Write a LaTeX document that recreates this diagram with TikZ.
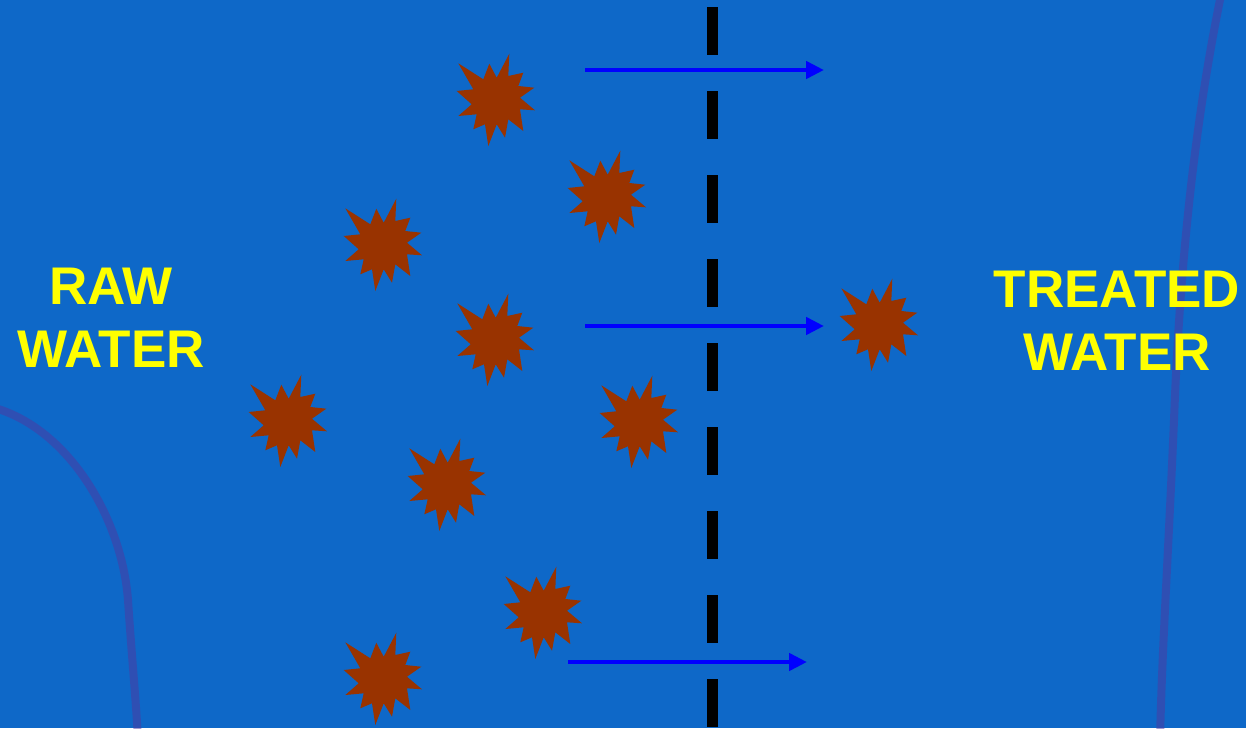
\documentclass[tikz,border=0pt]{standalone}
\usepackage{fontspec}
\setmainfont{Liberation Sans}
\usetikzlibrary{arrows.meta}
\definecolor{bg}{RGB}{14,104,200}
\definecolor{burstc}{RGB}{153,51,0}
\definecolor{arrowc}{RGB}{0,0,255}
\definecolor{curvec}{RGB}{80,55,160}
\definecolor{labelc}{RGB}{255,255,0}
\tikzset{
  label text/.style={text=labelc, font=\fontsize{53}{63}\selectfont\bfseries, align=center, inner sep=0pt},
  flow/.style={draw=arrowc, line width=4.5pt, -{Triangle[length=18pt,width=17pt]}},
  membrane/.style={draw=black, line width=11pt, dash pattern=on 48pt off 36pt},
  faint curve/.style={draw=curvec, line width=8pt, opacity=0.5, line cap=round},
  burst/.pic={
    \fill[burstc] (-37.7,-37.7) -- (-12.7,-21.7) -- (-6.7,-37.3) -- (0.7,-23.3) -- (13.3,-47.3) -- (12.3,-25)
      -- (27.3,-28.3) -- (22.3,-15) -- (38.3,-13.3) -- (24,-3.3) -- (39,9.3) -- (24,8.3)
      -- (27.3,30) -- (12.3,18.3) -- (9,36.7) -- (0.7,23.3) -- (-7.7,45) -- (-11,23.3)
      -- (-22.7,28.3) -- (-19.3,13.3) -- (-37.7,15) -- (-24.3,3.3) -- (-39.3,-10) -- (-22.7,-11.7) -- cycle;
  }
}
\begin{document}
\begin{tikzpicture}[x=1pt,y=-1pt]
\fill[bg] (0,0) rectangle (1246,728);
\useasboundingbox (0,0) rectangle (1246,728);
% faint curves
\draw[faint curve] (-5,408) .. controls (70,430) and (122,520) .. (128,600) .. controls (132,660) and (136,700) .. (138,740);
\draw[faint curve] (1222,-10) .. controls (1195,120) and (1180,260) .. (1174,420) .. controls (1168,560) and (1162,650) .. (1160,740);
% membrane
\coordinate (mtop) at (712,7);
\coordinate (mbot) at (712,740);
\draw[membrane] (mtop) -- (mbot);
% arrows
\coordinate (a1s) at (585,70);  \coordinate (a1e) at (824,70);
\coordinate (a2s) at (585,326); \coordinate (a2e) at (824,326);
\coordinate (a3s) at (568,662); \coordinate (a3e) at (807,662);
\draw[flow] (a1s) -- (a1e);
\draw[flow] (a2s) -- (a2e);
\draw[flow] (a3s) -- (a3e);
% bursts
\pic at (496,101) {burst};
\pic at (607,198) {burst};
\pic at (383,246) {burst};
\pic at (495,341) {burst};
\pic at (879,326) {burst};
\pic at (288,422) {burst};
\pic at (639,423) {burst};
\pic at (447,486) {burst};
\pic at (543,614) {burst};
\pic at (383,680) {burst};
% labels
\node[label text] (raw) at (111,318) {RAW\\WATER};
\node[label text] (treated) at (1117,321) {TREATED\\WATER};
\end{tikzpicture}
\end{document}
